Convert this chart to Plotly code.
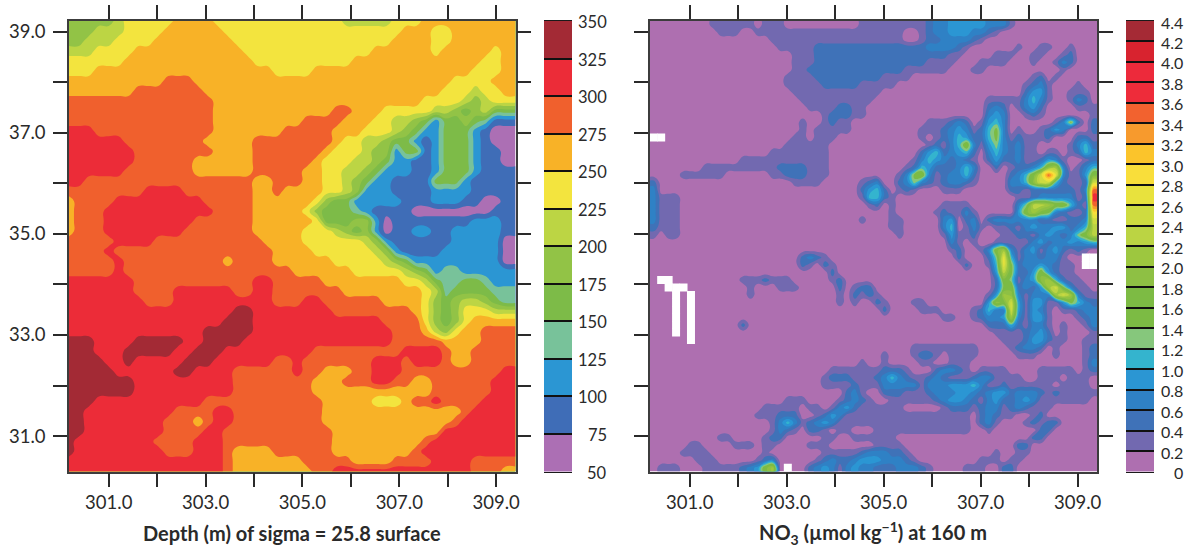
import numpy as np
import plotly.graph_objects as go

# ---------- band tables ----------
depth_levels = [50, 75, 100, 125, 150, 175, 200, 225, 250, 275, 300, 325, 350]
depth_colors = ["#AC6FB4", "#3F6DB7", "#2B96D3", "#78C29A", "#7DBB48", "#92C346",
                "#BCD544", "#F3E43E", "#F8B227", "#F0602D", "#EC2C38", "#A32A35"]
no3_levels = [0.0, 0.2, 0.4, 0.6, 0.8, 1.0, 1.2, 1.4, 1.6, 1.8, 2.0, 2.2, 2.4, 2.6,
              2.8, 3.0, 3.2, 3.4, 3.6, 3.8, 4.0, 4.2, 4.4]
no3_colors = ["#AE6FB0", "#7269B0", "#3F72B8", "#2F81C5", "#2B96D3", "#34B4CE", "#86C77C",
              "#7CBB44", "#7DBB44", "#8EC044", "#9DC73F", "#BBD443", "#CEDB40", "#E8E23D",
              "#F9DE3A", "#FBC42B", "#F79A2D", "#F2622F", "#EE2C3A", "#ED2A3B", "#D8232F", "#A52A35"]

# ---------- depth field: a..l = band 50-75 .. 325-350 ----------
depth_rows = [
 "fffff ghhhh hiiii hhhhh hhhhh hhhgg ggghh hiiii iiiii",
 "fffgg ghhhh iiiii ihhhh hhhhh hhhhh hhhhi iihhi iiiii",
 "ffggg hhhhi iiiii iihhh hhhhh hhhhh hhhii iihhi iiiii",
 "ggghh hhiii iiiii iiihh hhhhh hhhhh hiiii iihii iiihi",
 "hhhhh hiiii iiiii iiiih hhhhh hhhhi iiiii iiiii iihhi",
 "hhhii iiiii iiiii iiiii ihhhh iiiii iiiii iiiii ihhhi",
 "iiiii iiiii jjjii iiiii iiiii iiiii iiiii iiiih hhhii",
 "iiiii iijjj jjjji iiiii iiiii iiiii iiiii iiihh hghhi",
 "jjjjj jjjjj jjjjj iiiii iiiii iiiii iiiii ihhhh gfghh",
 "jjjjj jjjjj jjjjj iiiii iiiii iijji iihhh hhggf efgee",
 "jjjjj jjjjj jjjjj iiiii iiiij jjjii ihhgg fecee fedbb",
 "kkkjj jjjjj jjjjj iiiii iijjj jjiii hhhgf eccee ecbaa",
 "kkkkk kjjjj jjjji iiiij jjjjj jjihh ggfee cbcee ecbaa",
 "kkkkk kkjjj jjjjj iiiij jjjjj jihhh gffce ebcee ecbba",
 "kkkkk kkjjj jjjii iiiij jjjjj ihhhg gfecc bbcee ecbba",
 "kkkkk kjjjj jjjii iiiij jjjji ihhgg feccc bbcee ecbbb",
 "kkjjj jjjjj jjjjj jjjji ijjji ihhgf eccbb bbeee cbbbb",
 "jjjjj jjjkk kkjjj jjjji ijiii ihhgf cccbb bbccc cbbbb",
 "ijjjj kkkkk kkkkj jjjji iiiii hfeec ccccb bbccc bbaab",
 "ijjjk kkkkk kkkkk jjjji iiiih feeed cbbbb aaaaa aaabb",
 "ijjjk kkkkk kkkjj jjjji iiiii heeef fcabb bbbbb bcccb",
 "ijjjk kkkkk kkjjj jjjji iiiih hhgfe fcabb ccbbc ccccb",
 "jjjjj kkkkj jjjjj jjjjj iiiih hhhhh gfcbb bbbbc cccca",
 "jjjjk jjjjj jjjjj jjjjj jiiii hhhhh hgfcb bbbcc cccca",
 "jjjjj kjjjj jjjjj jijjj jiiii iihhh hhgfe ccccc cccca",
 "jjjjj kjjjj jjjjj jjjjj jjjii iiiih hhhhg fecdd ccccc",
 "kkkkk kkjjj jjjjj jjjjk kjjjj jiiii iiiih hgedd eedcc",
 "kkkkk kkjjj jkkkk kkjjk kjjjj jjjii iiiii ihgde eeedd",
 "kkkkk kkkjj jkkkk kkkkk kjjjk kjjjj jjiii ihfef ggfed",
 "kkkkk kkkkk kkkkk kkllk kkkkk kkjjj jjjjj ihfef hhhgg",
 "kkkkk kkkkk kkkkk klllk kkkkk kkkkk kkjjj jhfef hiiii",
 "kkkkk kkkkk kkkkl llllk kkkkk kkkkk kkkjj jigfh iijjj",
 "lllkk kklll llkkl lllkk kkkkk kkkkk kkkjj jjjii iijjj",
 "lllkk kllll lkkll lkkkk kkkkk jjjjj jjjjk kkkji ijjjj",
 "llllk klkkk kklll kkkkk kjjkj jjjjj jkkkj kkkji ijjjj",
 "lllll kkkkk kllkk kkjjj jjjkj jiiij jkkkj jjjjj jjjjk",
 "lllll llkkk kkkkk kkjjj jjjjj iiijj jkkjj iijjj jjjkk",
 "lllll llkkk kkkkk kkjjj jjjjj iiiii iiiii iijjj jjjkk",
 "lllkk kkkkk kkkkj jjjjj jjjjj jiiii ihhhi jjkjj jjkkk",
 "llkkk kkkkk kjjjj kkjjj jjjjj jiiii iiiii iiiii jkkkk",
 "llkkk kkkkk jjjij kkjjj jjjjj jiiii iiiii iiiij kkkkk",
 "llkkk kkkkk jjjjk kjjjj jjjjj jjiii iiiii iiikk kkkkk",
 "lkkkk kkkkj jjjkk kjjjj jjjjj jjiii iiiii ijkkk kkkkk",
 "lkkkk kkkkk jjjkk kjiii ijjjj jjiii iiiii jkkkk kkkkk",
 "kkkkk kkkkk kkkkk kjiii iiiij jjjji iiijj jjkkk kjjjj",
 "kkkkk kkkkk kkkkk kjiii iiiii jjkkk kkkkk kkkkk kjjji",
]

# ---------- nitrate field: digits/letters = band index, . = band 0, w = no data ----------
no3_west = [
 "........111111.111..........11",
 ".........111..1111111111111111",
 "................11111111111111",
 ".................1111122222222",
 "...................11122222222",
 "...................11122222222",
 "...................11222222222",
 "..................111122222222",
 "..................111112222211",
 "...................11111111111",
 "....................1111111111",
 ".....................11112211.",
 ".......................122211.",
 "....................1..1211...",
 "....................1.11111...",
 "ww.................11.111.....",
 "..................111111......",
 "................11111111......",
 "............111111111111......",
 ".......11111111112222111......",
 "....111111......11222111......",
 "2..................1111.....12",
 "3...........................24",
 "3111........................15",
 "3111.........................1",
 "3111..........................",
 "3111........................1.",
 "2111..........................",
 "1.11..........................",
 "..............................",
 "..............................",
 "....................2321......",
 "....................21.21.....",
 "........................2.....",
 ".ww.........1112111.....12....",
 "..www........1...111.....2.122",
 "...w.w.......1...........1.212",
 "...w.w...................1.1..",
 "...w.w........................",
 "...w.w........................",
 "...w.w......2.................",
 "...w.w........................",
 ".....w........................",
 "..............................",
 "..............................",
 "............................1.",
 "........................111111",
 ".......................1222111",
 ".......................1111211",
 "..........................231.",
 "..................111....12321",
 "...............11111.11.134211",
 "..............111222..12431111",
 "................13531234311111",
 "................1321.221.11...",
 ".........11....122.....11..111",
 ".....11....111.11....111......",
 "....1111.......1.......1111123",
 "......111.....123.....12322344",
 ".111...111112348a.w..234313433",
]
no3_east = [
 "1111111233444443331...........",
 "1111..12334443321.............",
 "1111..122333321...............",
 "2222222333321......1..11..1...",
 "222222222211....111..11..12...",
 "22222221111...1111...1..132...",
 "2222111111...11..........1....",
 "21111................12.1.....",
 "111.................1231...1..",
 "1...................2441..111.",
 "...............111113531..132.",
 "...............232.1342....111",
 "...............343..121......1",
 ".......111232.1453......1372.2",
 "......111234312573.1..1243...2",
 "......1.1235422573121112...221",
 ".......121358314632311....1352",
 "......24523452.3532311.11.1253",
 ".....135432321.24223112431..12",
 "....1254222353..2.122359a3.135",
 "...13783123352....2358chd31148",
 "3..23632123321....3359cc52112c",
 "52.121...111......22122222213h",
 "521................1123333312i",
 "2.1......1111......36bba88521h",
 "..1.....121131.....48a8732112e",
 "..11.....34.23.23333332211223c",
 "..11.....35.131.1121343344235b",
 "...1.....14112...112213432368b",
 "..........31.1..11111342334345",
 "..........12..138a31341342121.",
 "...........2...26d51332331..ww",
 "............2..15d723343211.ww",
 "................4b722484211...",
 "................2861349a5211..",
 "................2782324ac7311.",
 "1..............14a931333aca311",
 "21...11........498c41441147532",
 ".2....111....12533c41431.11233",
 ".........11..12334a31441...123",
 "...............222521331.1..13",
 "................11112342.1...1",
 ".................111244211..11",
 ".....111111111....12332.1...12",
 ".1...1221.1111.....111..1...12",
 ".1....11..111...............13",
 "12221...23321.1111....11111.12",
 "23532112321112331111..111.111.",
 "133333133344453112111111.1111.",
 ".22211123334432344233321211111",
 "..111111234432134223431111111.",
 "1111.....122212331232111......",
 "1111111111111.23211..12.......",
 "1111111111111.231...12122.....",
 "1111111111111..1......22......",
 "111..................22.......",
 "1111...............22.........",
 "33221...........1..11.........",
 "433321........111.11..........",
 "22233321....111..22...........",
]

DEPTH_COLS = 46
NO3_COLS = 60

depth_idx = [list(r.replace(" ", "").ljust(DEPTH_COLS - 1, "k")[:DEPTH_COLS - 1]) for r in depth_rows]
depth_z = np.array([[50 + 25 * (ord(c) - 97) + 12.5 for c in (r + [r[-1]])] for r in depth_idx])
depth_lat = np.linspace(39.21, 30.30, depth_z.shape[0])
depth_lon = np.linspace(300.18, 309.40, DEPTH_COLS)


def no3_value(c):
    if c in ".w":
        return 0.1
    return int(c, 36) * 0.2 + 0.1


no3_text = [(a.ljust(30, ".")[:30] + b.ljust(30, ".")[:30]) for a, b in zip(no3_west, no3_east)]
no3_core = np.array([[no3_value(c) for c in r] for r in no3_text])
no3_z = np.vstack([no3_core[:1], no3_core, no3_core[-1:]])
no3_z = np.hstack([no3_z[:, :1], no3_z, no3_z[:, -1:]])
cell_x = (309.40 - 300.18) / NO3_COLS
cell_y = (39.21 - 30.30) / no3_core.shape[0]
cell_lon = 300.18 + cell_x * (np.arange(NO3_COLS) + 0.5)
cell_lat = 39.21 - cell_y * (np.arange(no3_core.shape[0]) + 0.5)
no3_lon = np.concatenate([[300.18], cell_lon, [309.40]])
no3_lat = np.concatenate([[39.21], cell_lat, [30.30]])
gap_lon = [cell_lon[j] for r in no3_text for j, c in enumerate(r) if c == "w"]
gap_lat = [cell_lat[i] for i, r in enumerate(no3_text) for c in r if c == "w"]

lon_major = [301, 303, 305, 307, 309]
lon_minor = [302, 304, 306, 308]
lat_major = [31, 33, 35, 37, 39]
lat_minor = [32, 34, 36, 38]
lon_text = [f"{v}.0" for v in lon_major]
lat_text = [f"{v}.0" for v in lat_major]


def step_scale(colors):
    out = []
    n = len(colors)
    for i, c in enumerate(colors):
        out += [[i / n, c], [(i + 1) / n, c]]
    return out


W, H = 1195.0, 548.0
TOP, BOTTOM = 21.0, 471.5
y_dom = [1 - BOTTOM / H, 1 - TOP / H]
FONT = "Lato, Noto Sans, sans-serif"
INK = "#2a2a2a"

fig = go.Figure()
fig.add_trace(go.Contour(x=depth_lon, y=depth_lat, z=depth_z, xaxis="x", yaxis="y",
                         colorscale=step_scale(depth_colors), zmin=50, zmax=350, showscale=False,
                         contours=dict(type="levels", start=75, end=325, size=25, coloring="fill"),
                         line=dict(width=0, smoothing=1.3), hoverinfo="skip"))
fig.add_trace(go.Contour(x=no3_lon, y=no3_lat, z=no3_z, xaxis="x2", yaxis="y2",
                         colorscale=step_scale(no3_colors), zmin=0, zmax=4.4, showscale=False,
                         contours=dict(type="levels", start=0.2, end=4.2, size=0.2, coloring="fill"),
                         line=dict(width=0, smoothing=1.3), hoverinfo="skip"))
fig.add_trace(go.Scatter(x=gap_lon, y=gap_lat, xaxis="x2", yaxis="y2", mode="markers",
                         marker=dict(symbol="square", size=8, color="white", line=dict(width=0)),
                         hoverinfo="skip"))
depth_mid = [(a + b) / 2 for a, b in zip(depth_levels[:-1], depth_levels[1:])]
no3_mid = [(a + b) / 2 for a, b in zip(no3_levels[:-1], no3_levels[1:])]
fig.add_trace(go.Heatmap(x=[0], y=depth_mid, z=[[v] for v in depth_mid], xaxis="x3", yaxis="y3",
                         colorscale=step_scale(depth_colors), zmin=50, zmax=350, showscale=False,
                         hoverinfo="skip"))
fig.add_trace(go.Heatmap(x=[0], y=no3_mid, z=[[v] for v in no3_mid], xaxis="x4", yaxis="y4",
                         colorscale=step_scale(no3_colors), zmin=0, zmax=4.4, showscale=False,
                         hoverinfo="skip"))

minor_ticks = dict(ticks="outside", ticklen=14, tickwidth=1.5, tickcolor=INK, showgrid=False)


def map_x(dom, anchor):
    return dict(domain=[dom[0] / W, dom[1] / W], range=[300.18, 309.40], anchor=anchor, automargin=False,
                tickmode="array", tickvals=lon_major, ticktext=lon_text, ticks="outside",
                minor=dict(tickmode="array", tickvals=lon_minor, **minor_ticks),
                ticklen=14, tickwidth=1.5, tickcolor=INK, showline=True, linecolor="#3c3c3c",
                linewidth=1.5, mirror="allticks", showgrid=False, zeroline=False,
                tickfont=dict(family=FONT, size=18.5, color=INK))


def map_y(anchor, labels):
    return dict(domain=y_dom, range=[30.30, 39.21], anchor=anchor, automargin=False,
                tickmode="array", tickvals=lat_major, ticktext=lat_text, ticks="outside",
                showticklabels=labels,
                minor=dict(tickmode="array", tickvals=lat_minor, **minor_ticks),
                ticklen=14, tickwidth=1.5, tickcolor=INK, showline=True, linecolor="#3c3c3c",
                linewidth=1.5, mirror="allticks", showgrid=False, zeroline=False, ticklabelstandoff=4,
                tickfont=dict(family=FONT, size=18.5, color=INK))


def bar_x(dom, anchor):
    return dict(domain=[dom[0] / W, dom[1] / W], anchor=anchor, range=[-0.5, 0.5], automargin=False,
                showticklabels=False, ticks="", showgrid=False, zeroline=False,
                showline=True, linecolor="#1a1a1a", linewidth=1, mirror=True)


def bar_y(anchor, rng, vals):
    return dict(domain=y_dom, range=rng, anchor=anchor, side="right", tickmode="array", automargin=False,
                tickvals=vals, showticklabels=False, ticks="inside", ticklen=28.5, tickwidth=1.6,
                tickcolor="#111111", showgrid=False, zeroline=False, showline=False)


def bar_labels(levels, texts, yref, right_px, size):
    return [dict(text=t, xref="paper", yref=yref, x=right_px / W, y=v, xanchor="right", yanchor="middle",
                 xshift=0, yshift=-1, showarrow=False, font=dict(family=FONT, size=size, color=INK))
            for v, t in zip(levels, texts)]


depth_text = [str(v) for v in depth_levels]
no3_text_labels = [("0" if v == 0 else f"{v:.1f}") for v in no3_levels]

titles = [
    dict(text="<b>Depth (m) of sigma = 25.8 surface</b>", xref="paper", yref="paper",
         x=292 / W, y=1 - 532.5 / H, showarrow=False, yanchor="middle", xanchor="center",
         font=dict(family=FONT, size=20, color=INK)),
    dict(text="<b>NO<sub>3</sub> (µmol kg<sup>−1</sup>) at 160 m</b>", xref="paper", yref="paper",
         x=873 / W, y=1 - 532.5 / H, showarrow=False, yanchor="middle", xanchor="center",
         font=dict(family=FONT, size=20, color=INK)),
]

fig.update_layout(
    width=1195, height=548, margin=dict(l=0, r=0, t=0, b=0), autosize=False,
    paper_bgcolor="white", plot_bgcolor="white", showlegend=False,
    xaxis=map_x([69, 515.5], "y"), yaxis=map_y("x", True),
    xaxis2=map_x([650, 1097], "y2"), yaxis2=map_y("x2", False),
    xaxis3=bar_x([544, 572], "y3"),
    yaxis3=bar_y("x3", [50, 350], depth_levels),
    xaxis4=bar_x([1126, 1154], "y4"),
    yaxis4=bar_y("x4", [0, 4.4], no3_levels),
    annotations=titles + bar_labels(depth_levels, depth_text, "y3", 609, 16.5)
                + bar_labels(no3_levels, no3_text_labels, "y4", 1185, 16),
)

fig.write_html("out.html", post_script="document.body.style.margin='0';",
               config={"displayModeBar": False})
